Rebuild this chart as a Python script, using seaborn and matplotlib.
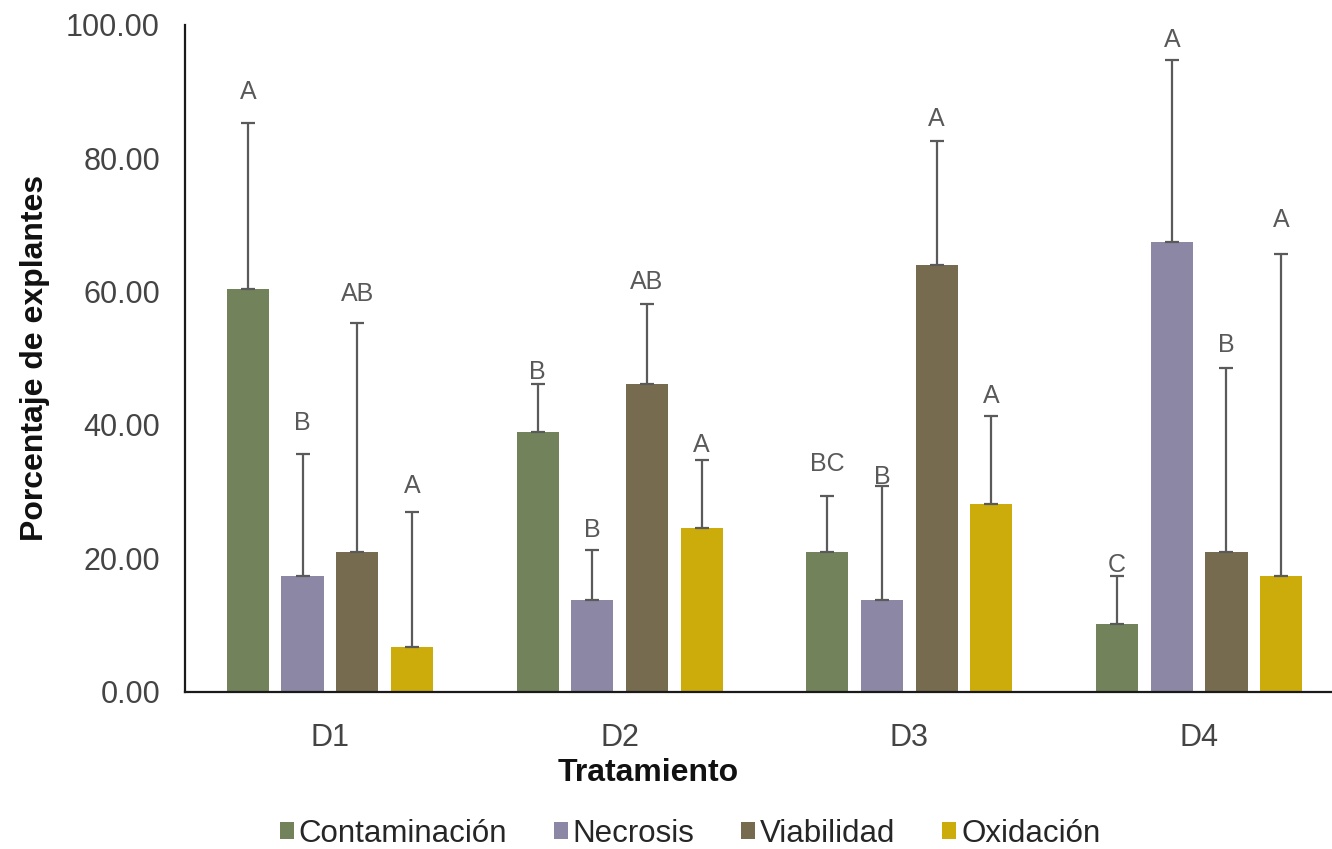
import numpy as np
import pandas as pd
import matplotlib
matplotlib.use("Agg")
import matplotlib.pyplot as plt
import seaborn as sns
from matplotlib.patches import Patch

# ---------------- data ----------------
treatments = ["D1", "D2", "D3", "D4"]
series = ["Contaminación", "Necrosis", "Viabilidad", "Oxidación"]

contaminacion = [60.4, 38.9, 21.0, 10.2]
necrosis = [17.3, 13.8, 13.8, 67.5]
viabilidad = [20.9, 46.1, 64.0, 20.9]
oxidacion = [6.7, 24.5, 28.1, 17.3]

err_contaminacion = [24.9, 7.3, 8.3, 7.2]
err_necrosis = [18.3, 7.5, 17.0, 27.2]
err_viabilidad = [34.4, 12.0, 18.6, 27.6]
err_oxidacion = [20.3, 10.2, 13.3, 48.3]

letters_contaminacion = ["A", "B", "BC", "C"]
letters_necrosis = ["B", "B", "B", "A"]
letters_viabilidad = ["AB", "AB", "A", "B"]
letters_oxidacion = ["A", "A", "A", "A"]

# y (data units) where each significance letter is centred
lety_contaminacion = [89.9, 47.9, 34.1, 19.0]
lety_necrosis = [40.3, 24.2, 32.2, 97.7]
lety_viabilidad = [59.6, 61.4, 85.9, 52.0]
lety_oxidacion = [30.8, 37.0, 44.3, 70.8]

yticks = [0, 20, 40, 60, 80, 100]

colors = ["#72835B", "#8B87A4", "#766B4E", "#CCAC0A"]

values = [contaminacion, necrosis, viabilidad, oxidacion]
errors = [err_contaminacion, err_necrosis, err_viabilidad, err_oxidacion]
letters = [letters_contaminacion, letters_necrosis, letters_viabilidad, letters_oxidacion]
letys = [lety_contaminacion, lety_necrosis, lety_viabilidad, lety_oxidacion]

rows = []
for s, vals in zip(series, values):
    for t, v in zip(treatments, vals):
        rows.append({"Tratamiento": t, "Serie": s, "Valor": v})
df = pd.DataFrame(rows)

# ---------------- figure ----------------
sns.set_theme(style="white")
plt.rcParams["font.family"] = ["Liberation Sans", "DejaVu Sans"]

W, H = 1332, 849
fig = plt.figure(figsize=(W / 100, H / 100), dpi=100)
ax_left, ax_right = 185, 1344
ax_top, ax_bottom = 25, 691.5
ax = fig.add_axes([ax_left / W, 1 - ax_bottom / H,
                   (ax_right - ax_left) / W, (ax_bottom - ax_top) / H])

sns.barplot(data=df, x="Tratamiento", y="Valor", hue="Serie",
            order=treatments, hue_order=series, palette=colors,
            width=0.755, gap=0.23, errorbar=None, linewidth=0,
            saturation=1, legend=False, ax=ax)

# error bars and letters, located from the drawn bars
bars = [p for p in ax.patches]
n_t = len(treatments)
for si in range(len(series)):
    for ti in range(n_t):
        p = bars[si * n_t + ti]
        xc = p.get_x() + p.get_width() / 2
        h = p.get_height()
        ax.errorbar(xc, h, yerr=[[0], [errors[si][ti]]], fmt="none",
                    ecolor="#5A5A5A", elinewidth=1.6, capsize=4.8,
                    capthick=1.6, zorder=3)
        ax.text(xc, letys[si][ti], letters[si][ti], ha="center", va="center",
                fontsize=18, color="#595959")

ax.set_ylim(0, 100)
ax.set_xlim(-0.5, 3.5)
ax.set_yticks(yticks)
ax.set_yticklabels([f"{v:.2f}" for v in yticks])
ax.tick_params(axis="both", length=0, labelsize=22, labelcolor="#444444")
ax.tick_params(axis="y", pad=18)
ax.tick_params(axis="x", pad=23)

for side in ["top", "right"]:
    ax.spines[side].set_visible(False)
for side in ["left", "bottom"]:
    ax.spines[side].set_color("#1a1a1a")
    ax.spines[side].set_linewidth(1.6)

ax.set_xlabel("Tratamiento", fontsize=23, fontweight="bold", color="#111111")
ax.set_ylabel("Porcentaje de explantes", fontsize=23, fontweight="bold", color="#111111")
axw = ax_right - ax_left
axh = ax_bottom - ax_top
ax.xaxis.set_label_coords((648 - ax_left) / axw, -(773 - ax_bottom) / axh)
ax.xaxis.label.set_va("center")
ax.yaxis.set_label_coords(-(ax_left - 35) / axw, 0.5)
ax.yaxis.label.set_va("center")

handles = [Patch(facecolor=c, edgecolor="none", label=s) for c, s in zip(colors, series)]
fig.legend(handles=handles, loc="center", bbox_to_anchor=(690 / W, 1 - 834 / H),
           ncol=4, frameon=False, fontsize=22.5, handlelength=0.45,
           handleheight=0.45, handletextpad=0.15, columnspacing=1.5,
           labelcolor="#262626")

fig.savefig("out.png", dpi=100)
